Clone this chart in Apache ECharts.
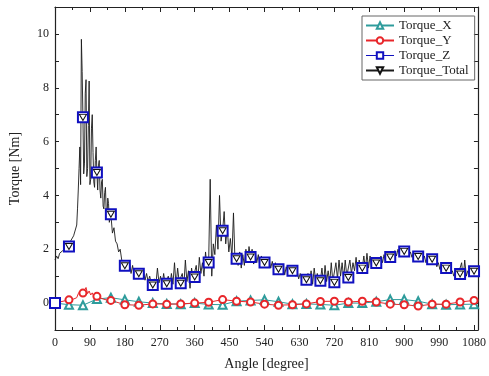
<!DOCTYPE html>
<html>
<head>
<meta charset="utf-8">
<script src="https://cdn.jsdelivr.net/npm/echarts@6/dist/echarts.min.js"></script>
<style>
  html, body { margin: 0; padding: 0; background: #fff; }
  #chart { width: 489px; height: 376px; }
</style>
</head>
<body>
<div id="chart"></div>
<script>
// marker positions (every 36 degrees)
const markerAngles = [0, 36, 72, 108, 144, 180, 216, 252, 288, 324, 360, 396, 432, 468, 504, 540,
  576, 612, 648, 684, 720, 756, 792, 828, 864, 900, 936, 972, 1008, 1044, 1080];
const torqueX = [0, -0.06, -0.08, 0.15, 0.2, 0.12, 0.05, 0.0, -0.03, -0.04, 0.0, -0.05, -0.06, 0.07, 0.1, 0.12,
  0.05, -0.04, -0.03, -0.05, -0.08, 0.0, 0.0, 0.05, 0.13, 0.13, 0.07, -0.04, -0.06, -0.05, -0.04];
const torqueY = [0, 0.12, 0.37, 0.25, 0.1, -0.06, -0.08, -0.03, -0.04, -0.03, 0.0, 0.03, 0.13, 0.07, 0.04, -0.04,
  -0.08, -0.06, -0.03, 0.06, 0.07, 0.04, 0.07, 0.04, -0.04, -0.06, -0.11, -0.04, -0.04, 0.04, 0.1];
const torqueZ = [0, 2.1, 6.9, 4.85, 3.3, 1.39, 1.09, 0.67, 0.72, 0.74, 0.97, 1.51, 2.69, 1.65, 1.71, 1.51,
  1.26, 1.2, 0.87, 0.83, 0.77, 0.95, 1.3, 1.49, 1.71, 1.92, 1.73, 1.63, 1.3, 1.08, 1.18];

// extra wiggle of Torque_Y between markers
const yNoiseAngles = [48, 56, 60, 64, 68, 76, 80, 84, 88, 92, 96, 100, 104, 116, 124, 132];
const yNoiseValues = [0.15, 0.2, 0.35, 0.3, 0.5, 0.3, 0.58, 0.35, 0.45, 0.3, 0.38, 0.25, 0.3, 0.2, 0.15, 0.12];

// Torque_Total sampled every 4 degrees, 0..1080
const totalStep = 4;
const torqueTotal = [
  1.6, 1.75, 1.65, 1.85, 1.8, 1.95, 1.9, 2.05, 2.0,
  2.1, 2.3, 2.25, 2.5, 2.45, 2.9, 4.2, 5.8, 9.8,
  6.9, 5.2, 8.3, 5.0, 8.25, 4.6, 7.0, 4.5, 5.3,
  4.85, 5.1, 4.2, 4.5, 3.6, 4.1, 3.4, 3.9, 3.0,
  3.3, 2.6, 2.8, 2.3, 2.2, 1.9, 2.0, 1.6, 1.5,
  1.39, 1.6, 1.2, 1.5, 1.1, 1.4, 1.0, 1.3, 0.95,
  1.09, 1.3, 0.9, 1.2, 0.85, 1.1, 0.8, 1.0, 0.75,
  0.67, 0.9, 0.7, 1.3, 0.75, 1.0, 0.65, 1.1, 0.7,
  0.72, 1.0, 0.6, 1.1, 0.7, 1.5, 0.65, 1.3, 0.8,
  0.74, 1.1, 0.6, 1.6, 0.8, 1.2, 0.55, 1.3, 0.9,
  0.97, 1.4, 0.8, 1.7, 1.1, 1.5, 1.0, 1.9, 1.3,
  1.51, 4.6, 1.0, 2.2, 1.8, 2.9, 2.0, 4.0, 2.3,
  2.69, 3.4, 2.2, 2.8, 1.9, 2.4, 1.7, 3.35, 1.5,
  1.65, 1.4, 1.9, 1.3, 1.8, 1.4, 2.0, 1.5, 2.1,
  1.71, 2.0, 1.45, 1.9, 1.5, 1.8, 1.35, 1.75, 1.45,
  1.51, 1.7, 1.35, 1.6, 1.3, 1.55, 1.25, 1.5, 1.2,
  1.26, 1.45, 1.1, 1.4, 1.05, 1.35, 1.1, 1.4, 1.05,
  1.2, 1.3, 1.0, 1.2, 0.9, 1.1, 0.85, 1.05, 0.8,
  0.87, 1.1, 0.75, 1.2, 0.7, 1.3, 0.8, 1.1, 0.7,
  0.83, 1.3, 0.7, 1.4, 0.8, 1.2, 0.75, 1.5, 0.8,
  0.77, 1.5, 0.9, 1.6, 1.0, 1.5, 0.9, 1.6, 1.0,
  0.95, 1.6, 1.1, 1.5, 1.2, 1.7, 1.1, 1.6, 1.2,
  1.3, 1.75, 1.25, 1.85, 1.3, 1.75, 1.35, 1.7, 1.4,
  1.49, 1.7, 1.45, 1.75, 1.5, 1.8, 1.55, 1.85, 1.6,
  1.71, 1.9, 1.7, 1.95, 1.75, 2.0, 1.8, 2.0, 1.85,
  1.92, 1.8, 1.95, 1.75, 1.9, 1.7, 1.85, 1.65, 1.8,
  1.73, 1.6, 1.8, 1.55, 1.75, 1.5, 1.7, 1.45, 1.65,
  1.63, 1.45, 1.6, 1.35, 1.5, 1.25, 1.45, 1.2, 1.4,
  1.3, 1.2, 1.3, 1.1, 1.2, 1.0, 1.15, 0.95, 1.1,
  1.08, 1.5, 0.9, 1.6, 1.0, 1.2, 1.1, 1.2, 1.15,
  1.18
];
// denser samples in the main peak (between the 4-degree samples)
const peakAngles = [58, 62, 66, 70, 74, 78, 82, 86, 90, 94, 98, 102, 106, 110, 114, 118, 122, 126, 130, 134, 138];
const peakValues = [3.5, 5.0, 4.4, 8.6, 4.8, 7.8, 4.7, 6.6, 4.4, 6.5, 5.6, 4.3, 5.8, 4.2, 5.3, 3.9, 4.6, 3.5, 4.3, 3.2, 3.7];

const font = 'Liberation Serif';
const chart = echarts.init(document.getElementById('chart'));

const yData = markerAngles.map((a, i) => ({ value: [a, torqueY[i]] }))
  .concat(yNoiseAngles.map((a, i) => ({ value: [a, yNoiseValues[i]], symbol: 'none' })))
  .sort((p, q) => p.value[0] - q.value[0]);

const totalData = torqueTotal.map((v, i) => {
  const a = i * totalStep;
  const isMarker = a > 0 && markerAngles.indexOf(a) >= 0;
  return isMarker ? { value: [a, v] } : { value: [a, v], symbol: 'none' };
}).concat(peakAngles.map((a, i) => ({ value: [a, peakValues[i]], symbol: 'none' })))
  .sort((p, q) => p.value[0] - q.value[0]);

const xAxisBase = {
  type: 'value', min: 0, max: 1090, interval: 90,
  axisLine: { onZero: false, lineStyle: { color: '#222', width: 1.2 } },
  axisTick: { inside: true, length: 5, lineStyle: { color: '#222' } },
  minorTick: { show: true, splitNumber: 2, length: 3, lineStyle: { color: '#222' } },
  splitLine: { show: false }
};
const yAxisBase = {
  type: 'value', min: -1, max: 11, interval: 1,
  axisLine: { show: true, onZero: false, lineStyle: { color: '#222', width: 1.2 } },
  axisTick: { show: true, inside: true, length: 4, lineStyle: { color: '#222' } },
  splitLine: { show: false }
};

chart.setOption({
  animation: false,
  backgroundColor: '#fff',
  textStyle: { fontFamily: font },
  grid: { left: 50, right: 8, top: 7, bottom: 45 },
  xAxis: [
    Object.assign({}, xAxisBase, {
      position: 'bottom',
      name: 'Angle [degree]', nameLocation: 'middle', nameGap: 27,
      nameTextStyle: { fontFamily: font, fontSize: 14, color: '#222' },
      axisLabel: {
        showMaxLabel: false, margin: 7, fontFamily: font, fontSize: 12, color: '#222',
        formatter: v => String(v)
      }
    }),
    Object.assign({}, xAxisBase, { position: 'top', axisLabel: { show: false } })
  ],
  yAxis: [
    Object.assign({}, yAxisBase, {
      position: 'left',
      name: 'Torque [Nm]', nameLocation: 'middle', nameGap: 33,
      nameTextStyle: { fontFamily: font, fontSize: 14, color: '#222' },
      axisLabel: {
        margin: 6, fontFamily: font, fontSize: 12, color: '#222',
        formatter: v => (Math.round(v) % 2 === 0 ? String(v) : '')
      }
    }),
    Object.assign({}, yAxisBase, { position: 'right', axisLabel: { show: false } })
  ],
  legend: {
    orient: 'vertical', left: 362, top: 16,
    padding: [3, 6, 3, 3], itemGap: 2, itemWidth: 28, itemHeight: 8,
    borderColor: '#666', borderWidth: 1,
    textStyle: { fontFamily: font, fontSize: 13, color: '#222' },
    data: [
      { name: 'Torque_X' },
      { name: 'Torque_Y' },
      { name: 'Torque_Z', lineStyle: { color: '#1010c0', width: 1, opacity: 1 } },
      { name: 'Torque_Total' }
    ]
  },
  series: [
    {
      name: 'Torque_X', type: 'line',
      data: markerAngles.map((a, i) => [a, torqueX[i]]),
      symbol: 'emptyTriangle', symbolSize: 8, showAllSymbol: true,
      itemStyle: { color: '#2e9c9c', borderWidth: 1 },
      lineStyle: { color: '#2e9c9c', width: 1 }
    },
    {
      name: 'Torque_Y', type: 'line',
      data: yData,
      symbol: 'emptyCircle', symbolSize: 7, showAllSymbol: true,
      itemStyle: { color: '#e8262a', borderWidth: 1 },
      lineStyle: { color: '#e8262a', width: 1 }
    },
    {
      name: 'Torque_Z', type: 'line',
      data: markerAngles.map((a, i) => [a, torqueZ[i]]),
      symbol: 'emptyRect', symbolSize: 10, showAllSymbol: true,
      itemStyle: { color: '#1010c0', borderWidth: 2 },
      lineStyle: { color: '#1010c0', width: 1, opacity: 0 }
    },
    {
      name: 'Torque_Total', type: 'line',
      data: totalData,
      symbol: 'path://M0,0 L10,0 L5,9 Z', symbolSize: [7, 6], showAllSymbol: true,
      itemStyle: { color: '#fff', borderColor: '#111', borderWidth: 1 },
      lineStyle: { color: '#1a1a1a', width: 0.9 }
    }
  ]
});
</script>
</body>
</html>
